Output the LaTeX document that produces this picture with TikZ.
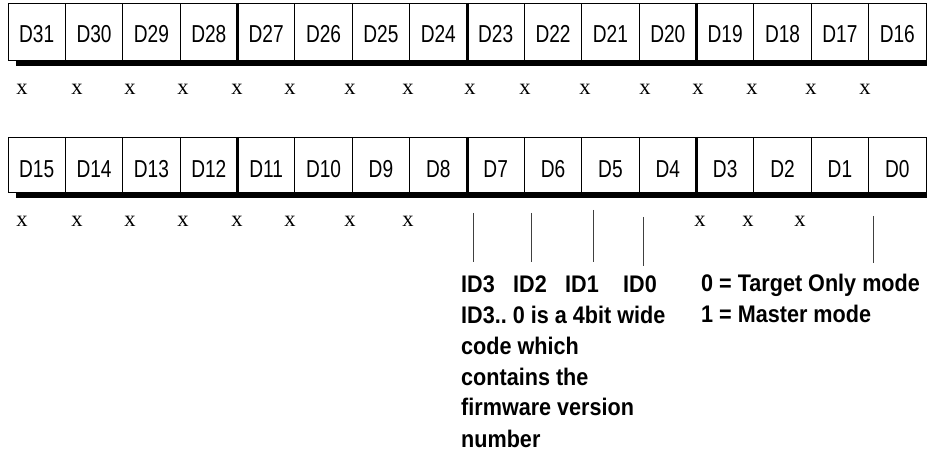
\documentclass[tikz,border=0pt]{standalone}
\usepackage{fontspec}
\setmainfont{Liberation Sans}
\newfontfamily\cellfont[FakeStretch=0.78]{Liberation Sans}
\newfontfamily\notefont[FakeStretch=0.9]{Liberation Sans}
\newfontfamily\xfont{Liberation Serif}
\usetikzlibrary{calc}
\tikzset{
  cellbox/.style={draw=black, line width=0.8pt, fill=white, inner sep=0pt, outer sep=0pt,
    minimum width=57.375pt, anchor=north west},
  celllabel/.style={inner sep=0pt, anchor=base, font=\cellfont\fontsize{24.5}{26}\selectfont},
  xmark/.style={inner sep=0pt, anchor=base, font=\xfont\fontsize{22.5}{24}\selectfont},
  shadowbar/.style={fill=black, draw=none},
  sepline/.style={line width=3pt, black},
  tick/.style={line width=0.9pt, black!75},
  note/.style={inner sep=0pt, anchor=base west, font=\notefont\bfseries\fontsize{24}{26}\selectfont}
}
\begin{document}
\begin{tikzpicture}[x=1pt,y=-1pt]
\useasboundingbox (0,0) rectangle (927,454);
\clip (0,0) rectangle (927,454);
% shadows
\fill[shadowbar] (16,60) rectangle (940,66);
\fill[shadowbar] (16,192) rectangle (940,198);
% row 1
\foreach \i in {0,...,15}{
  \pgfmathtruncatemacro{\b}{31-\i}
  \node[cellbox, minimum height=57pt] (ra\i) at ({8+57.375*\i},3) {};
  \node[celllabel] (la\i) at ({8+57.375*\i+28.69},43) {D\b};
}
% row 2
\foreach \i in {0,...,15}{
  \pgfmathtruncatemacro{\b}{15-\i}
  \node[cellbox, minimum height=55pt] (rb\i) at ({8+57.375*\i},137) {};
  \node[celllabel] (lb\i) at ({8+57.375*\i+28.69},178) {D\b};
}
% thick separators
\foreach \i in {3,7,11}{
  \draw[sepline] (ra\i.north east) -- ($(ra\i.south east)+(0,6)$);
  \draw[sepline] (rb\i.north east) -- ($(rb\i.south east)+(0,6)$);
}
% x marks row 1
\foreach \xx [count=\k] in {22,77,130,183,237,290,350,408,470,525,585,645,698,752,811,865}{
  \node[xmark] (xa\k) at (\xx,95) {x};
}
% x marks row 2
\foreach \xx [count=\k] in {22,77,130,183,237,290,350,408,700,748,800}{
  \node[xmark] (xb\k) at (\xx,227) {x};
}
% tick lines
\coordinate (t1a) at (473,213); \coordinate (t1b) at (473,262);
\coordinate (t2a) at (531,213); \coordinate (t2b) at (531,262);
\coordinate (t3a) at (593,210); \coordinate (t3b) at (593,262);
\coordinate (t4a) at (643,217); \coordinate (t4b) at (643,266);
\coordinate (t5a) at (873,216); \coordinate (t5b) at (873,263);
\draw[tick] (t1a) -- (t1b);
\draw[tick] (t2a) -- (t2b);
\draw[tick] (t3a) -- (t3b);
\draw[tick] (t4a) -- (t4b);
\draw[tick] (t5a) -- (t5b);
% notes
\node[note] (id3) at (461,293) {ID3};
\node[note] (id2) at (513,293) {ID2};
\node[note] (id1) at (565,293) {ID1};
\node[note] (id0) at (623,293) {ID0};
\node[note] (n2) at (461,324) {ID3..\ 0 is a 4bit wide};
\node[note] (n3) at (461,355) {code which};
\node[note] (n4) at (461,385) {contains the};
\node[note] (n5) at (461,416) {firmware version};
\node[note] (n6) at (461,447) {number};
\node[note] (m0) at (701,292) {0 = Target Only mode};
\node[note] (m1) at (701,323) {1 = Master mode};
\end{tikzpicture}
\end{document}
